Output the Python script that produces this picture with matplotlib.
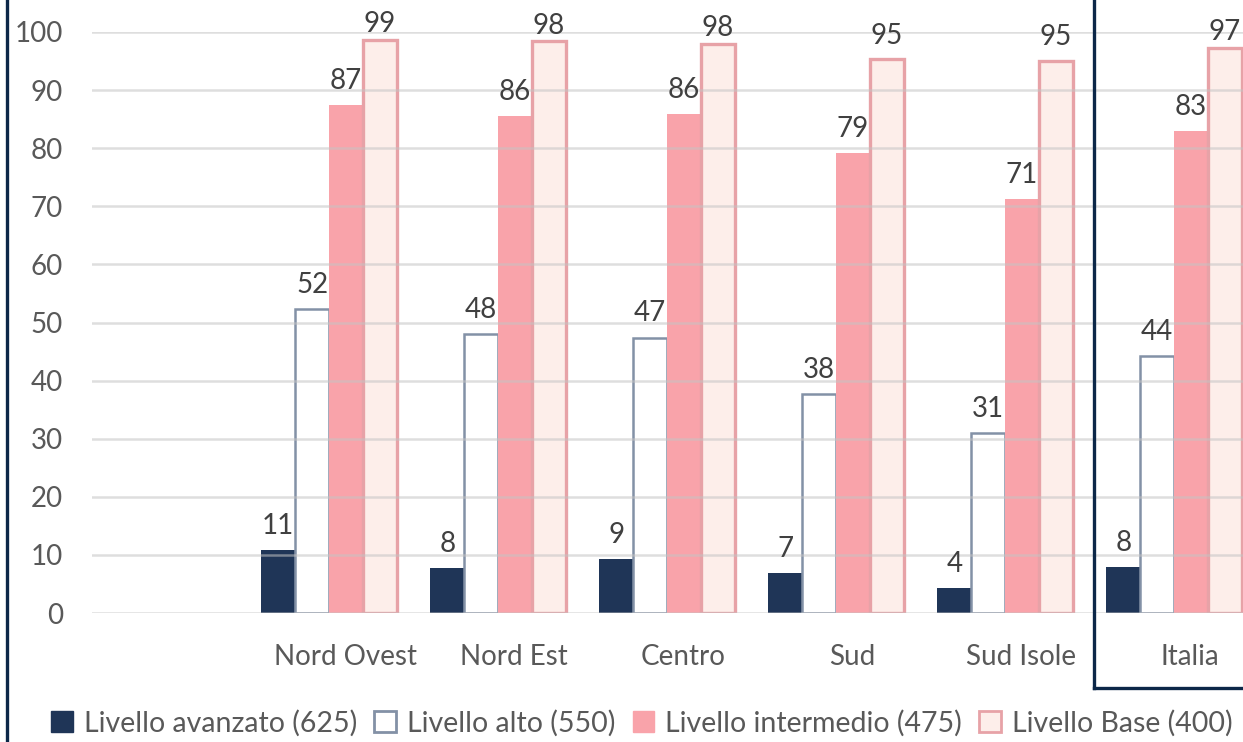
import matplotlib.pyplot as plt
from matplotlib.patches import Patch
from matplotlib.lines import Line2D
import numpy as np

plt.rcParams['font.family'] = ['Lato', 'DejaVu Sans']

# regions (first slot left empty on purpose)
categories = ['', 'Nord Ovest', 'Nord Est', 'Centro', 'Sud', 'Sud Isole', 'Italia']
avanzato = [np.nan, 10.8, 7.7, 9.3, 6.9, 4.3, 7.9]
alto = [np.nan, 52.3, 48.0, 47.4, 37.7, 31.0, 44.2]
intermedio = [np.nan, 87.4, 85.5, 85.9, 79.2, 71.3, 83.0]
base = [np.nan, 98.6, 98.4, 97.9, 95.4, 95.0, 97.2]
legend_labels = ['Livello avanzato (625)', 'Livello alto (550)',
                 'Livello intermedio (475)', 'Livello Base (400)']

navy = '#1f3557'
alto_edge = '#8391a6'
pink = '#f9a3aa'
base_fill = '#fdeeea'
base_edge = '#e7a2a7'
frame = '#0c2748'
txt = '#595959'

fig = plt.figure(figsize=(12.43, 7.42), dpi=100)
ax = fig.add_axes([92/1243, 1-613/742, 1-92/1243, (613-32)/742])

x = np.arange(len(categories))
w = 0.2
styles = [
    dict(color=navy, edgecolor=navy, linewidth=0),
    dict(color='white', edgecolor=alto_edge, linewidth=1.8),
    dict(color=pink, edgecolor=pink, linewidth=0),
    dict(color=base_fill, edgecolor=base_edge, linewidth=2.4),
]
series = [avanzato, alto, intermedio, base]
for k, (vals, st) in enumerate(zip(series, styles)):
    pos = x + (k - 1.5) * w
    ax.bar(pos, vals, width=w, zorder=2, **st)
    for p, v in zip(pos, vals):
        if np.isnan(v):
            continue
        # labels near the top get pushed down so they stay inside the figure
        off = 8 if v < 95 else max(2, 8 - (v - 95) * 2.5)
        ax.annotate(f'{v:.0f}', (p, v), xytext=(0, off), textcoords='offset points',
                    ha='center', va='bottom', fontsize=20, color='#404040',
                    annotation_clip=False)

ax.set_xlim(-0.402, 6.408)
ax.set_ylim(0, 100)
ax.set_yticks(range(0, 101, 10))
ax.yaxis.grid(True, color='#c4c4c4', linewidth=1.8, alpha=0.55, zorder=3)
ax.set_axisbelow(False)
ax.set_xticks(x + 0.095)
ax.set_xticklabels(categories)
ax.tick_params(axis='both', length=0, labelsize=20, labelcolor=txt)
ax.tick_params(axis='y', pad=21)
ax.tick_params(axis='x', pad=22)
for s in ax.spines.values():
    s.set_visible(False)

# left frame and box around Italia
fig.add_artist(Line2D([6.5/1243, 6.5/1243], [0, 1], color=frame, linewidth=2.4))
fig.add_artist(Line2D([1093.5/1243, 1093.5/1243], [1, 1-688/742], color=frame, linewidth=2.4))
fig.add_artist(Line2D([1093.5/1243, 1], [1-688/742, 1-688/742], color=frame, linewidth=2.4))

handles = [Patch(facecolor=navy, edgecolor=navy),
           Patch(facecolor='white', edgecolor=alto_edge, linewidth=2),
           Patch(facecolor=pink, edgecolor=pink),
           Patch(facecolor=base_fill, edgecolor=base_edge, linewidth=2)]
fig.legend(handles, legend_labels, loc='center', bbox_to_anchor=(642/1243, 1-723/742),
           ncol=4, frameon=False, fontsize=20.5, labelcolor=txt,
           handlelength=0.75, handleheight=0.75, handletextpad=0.4, columnspacing=0.6)

fig.savefig('out.png', dpi=100)
